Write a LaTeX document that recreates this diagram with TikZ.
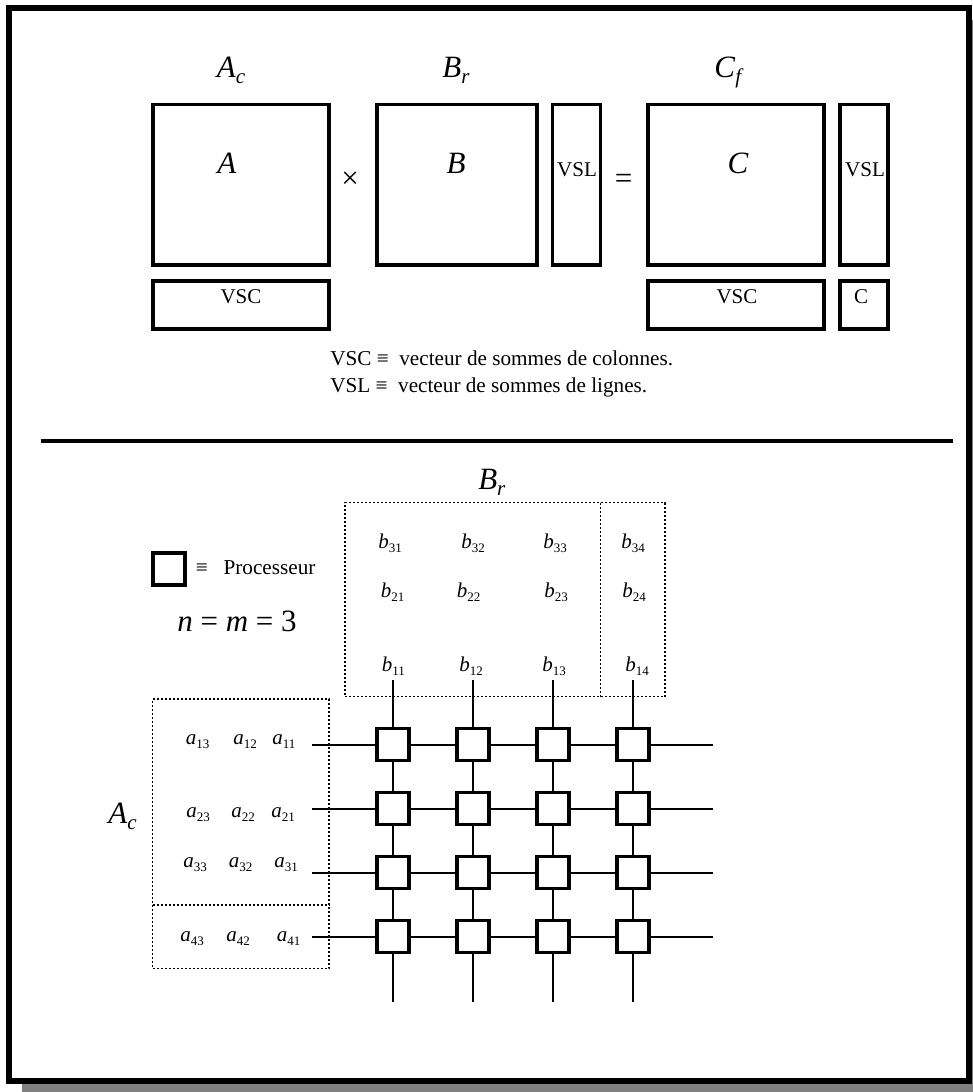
\documentclass[tikz,border=0pt]{standalone}
\usepackage{fontspec}
\setmainfont{Liberation Serif}
\usetikzlibrary{positioning}
\definecolor{ShadowGray}{HTML}{808080}
\newcommand{\entry}[2]{\textit{#1}\raisebox{-.2em}{\fontsize{9.75}{10}\selectfont #2}}
\newcommand{\bigentry}[2]{\textit{#1}\raisebox{-.2em}{\fontsize{15.75}{16}\selectfont\textit{#2}}}

\begin{document}
\begin{tikzpicture}[
  x=0.75pt, y=-0.75pt,
  matbox/.style={draw, line width=2.6pt, inner sep=0pt},
  bigmat/.style={matbox, minimum width=132pt, minimum height=120.5pt},
  sumcol/.style={matbox, minimum width=132pt, minimum height=36pt},
  sumrow/.style={matbox, minimum width=36pt, minimum height=120.5pt},
  proc/.style={matbox, minimum width=24pt, minimum height=24pt},
  zone/.style={draw, line width=1.1pt, dash pattern=on 1.5pt off 1.5pt, inner sep=0pt},
  wire/.style={line width=1.5pt},
  biglabel/.style={anchor=base, inner sep=0pt, font=\fontsize{23.25}{26}\selectfont},
  midlabel/.style={anchor=base, inner sep=0pt, font=\fontsize{15.75}{18}\selectfont},
  legend/.style={anchor=base west, inner sep=0pt, font=\fontsize{15.9}{18}\selectfont},
  cell/.style={anchor=base west, inner sep=0pt, font=\fontsize{15.75}{18}\selectfont}
]
% page, shadow and frame
\fill[white] (0,0) rectangle (973,1092);
\fill[ShadowGray] (22,20) rectangle (973,1092);
\draw[line width=4.5pt, fill=white] (9,8) rectangle (969,1081);
\useasboundingbox (0,0) rectangle (973,1092);

% top part
\node[bigmat] (matA) at (241,184.8) {};
\node[bigmat, minimum width=120pt, right=33.4pt of matA] (matB) {};
\node[sumrow, right=9pt of matB] (vslB) {};
\node[bigmat, right=33.2pt of vslB] (matC) {};
\node[sumrow, right=9.2pt of matC] (vslC) {};
\node[sumcol, below=9.2pt of matA] (vscA) {};
\node[sumcol, below=9.2pt of matC] (vscC) {};
\node[matbox, minimum width=36pt, minimum height=36pt, below=9.2pt of vslC] (corner) {};

\node[biglabel] (nameA) at (231,77) {\bigentry{A}{c}};
\node[biglabel] (nameB) at (456,77) {\bigentry{B}{r}};
\node[biglabel] (nameC) at (729,77) {\bigentry{C}{f}};
\node[biglabel] (letA) at (227,173) {\textit{A}};
\node[biglabel] (letB) at (456,173) {\textit{B}};
\node[biglabel] (letC) at (738,173) {\textit{C}};
\node[biglabel, anchor=center] (times) at (350,180) {×};
\node[biglabel, anchor=center] (equal) at (623.5,181) {=};
\node[midlabel] (txtVscA) at (241,303) {VSC};
\node[midlabel] (txtVslB) at (577,176) {VSL};
\node[midlabel] (txtVscC) at (737,303) {VSC};
\node[midlabel] (txtVslC) at (865,176) {VSL};
\node[midlabel] (txtCorner) at (861,303) {C};
\node[legend] (defVsc) at (330,365) {VSC ≡\hspace{.5em}vecteur de sommes de colonnes.};
\node[legend] (defVsl) at (330,392) {VSL ≡\hspace{.5em}vecteur de sommes de lignes.};

% separation
\coordinate (sepL) at (40.7,440.7);
\coordinate (sepR) at (952.7,440.7);
\draw[line width=3pt] (sepL) -- (sepR);

% legend of the bottom part
\node[matbox, minimum width=24pt, minimum height=24pt] (sample) at (169,569) {};
\node[legend] (sampleTxt) at (195.5,574) {≡\hspace{.75em}Processeur};
\node[biglabel, anchor=base west] (sizes) at (177,631) {\textit{n} = \textit{m} = 3};
\node[biglabel, anchor=base west] (nameBr) at (478,489) {\bigentry{B}{r}};
\node[biglabel, anchor=base west] (nameAc) at (108,823) {\bigentry{A}{c}};

% dotted zones
\node[zone, minimum width=240pt, minimum height=145.5pt] (zoneB) at (505,599.7) {};
\node[zone, minimum width=132.2pt, minimum height=202.3pt] (zoneA) at (240.85,833.85) {};
\coordinate (cutB) at (600.7,502.7);
\coordinate (cutBe) at (600.7,696.7);
\coordinate (cutA) at (152.7,905);
\coordinate (cutAe) at (329,905);
\draw[zone] (cutB) -- (cutBe);
\draw[zone] (cutA) -- (cutAe);

% entries of B
\node[cell] (b31) at (378,548.5) {\entry{b}{31}};
\node[cell] (b32) at (461,548.5) {\entry{b}{32}};
\node[cell] (b33) at (543,548.5) {\entry{b}{33}};
\node[cell] (b34) at (621,548.5) {\entry{b}{34}};
\node[cell] (b21) at (380.7,597) {\entry{b}{21}};
\node[cell] (b22) at (456.7,597) {\entry{b}{22}};
\node[cell] (b23) at (544,597) {\entry{b}{23}};
\node[cell] (b24) at (622,597) {\entry{b}{24}};
\node[cell] (b11) at (381.7,671) {\entry{b}{11}};
\node[cell] (b12) at (459,671) {\entry{b}{12}};
\node[cell] (b13) at (542,671) {\entry{b}{13}};
\node[cell] (b14) at (625,671) {\entry{b}{14}};

% entries of A
\node[cell] (a13) at (185.7,744) {\entry{a}{13}};
\node[cell] (a12) at (233,744) {\entry{a}{12}};
\node[cell] (a11) at (272,744) {\entry{a}{11}};
\node[cell] (a23) at (186,817.7) {\entry{a}{23}};
\node[cell] (a22) at (231,817.7) {\entry{a}{22}};
\node[cell] (a21) at (271,817.7) {\entry{a}{21}};
\node[cell] (a33) at (183,867.7) {\entry{a}{33}};
\node[cell] (a32) at (228.7,867.7) {\entry{a}{32}};
\node[cell] (a31) at (274,867.7) {\entry{a}{31}};
\node[cell] (a43) at (180,941.7) {\entry{a}{43}};
\node[cell] (a42) at (226,941.7) {\entry{a}{42}};
\node[cell] (a41) at (276.7,941.7) {\entry{a}{41}};

% processors
\begin{scope}[on grid]
\node[proc] (p11) at (393,744.5) {};
\node[proc, right=60pt of p11] (p12) {};
\node[proc, right=60pt of p12] (p13) {};
\node[proc, right=60pt of p13] (p14) {};
\node[proc, below=48pt of p11] (p21) {};
\node[proc, right=60pt of p21] (p22) {};
\node[proc, right=60pt of p22] (p23) {};
\node[proc, right=60pt of p23] (p24) {};
\node[proc, below=48pt of p21] (p31) {};
\node[proc, right=60pt of p31] (p32) {};
\node[proc, right=60pt of p32] (p33) {};
\node[proc, right=60pt of p33] (p34) {};
\node[proc, below=48pt of p31] (p41) {};
\node[proc, right=60pt of p41] (p42) {};
\node[proc, right=60pt of p42] (p43) {};
\node[proc, right=60pt of p43] (p44) {};
\end{scope}

% free ends of the wires
\coordinate (in1) at (312,744.5);
\coordinate (in2) at (312,808.5);
\coordinate (in3) at (312,872.5);
\coordinate (in4) at (312,936.5);
\coordinate (out1) at (713,744.5);
\coordinate (out2) at (713,808.5);
\coordinate (out3) at (713,872.5);
\coordinate (out4) at (713,936.5);
\coordinate (top1) at (393,680);
\coordinate (top2) at (473,680);
\coordinate (top3) at (553,680);
\coordinate (top4) at (633,680);
\coordinate (end1) at (393,1001.5);
\coordinate (end2) at (473,1001.5);
\coordinate (end3) at (553,1001.5);
\coordinate (end4) at (633,1001.5);

\draw[wire] (in1) -- (p11) -- (p12) -- (p13) -- (p14) -- (out1);
\draw[wire] (in2) -- (p21) -- (p22) -- (p23) -- (p24) -- (out2);
\draw[wire] (in3) -- (p31) -- (p32) -- (p33) -- (p34) -- (out3);
\draw[wire] (in4) -- (p41) -- (p42) -- (p43) -- (p44) -- (out4);
\draw[wire] (top1) -- (p11) -- (p21) -- (p31) -- (p41) -- (end1);
\draw[wire] (top2) -- (p12) -- (p22) -- (p32) -- (p42) -- (end2);
\draw[wire] (top3) -- (p13) -- (p23) -- (p33) -- (p43) -- (end3);
\draw[wire] (top4) -- (p14) -- (p24) -- (p34) -- (p44) -- (end4);
\end{tikzpicture}
\end{document}
